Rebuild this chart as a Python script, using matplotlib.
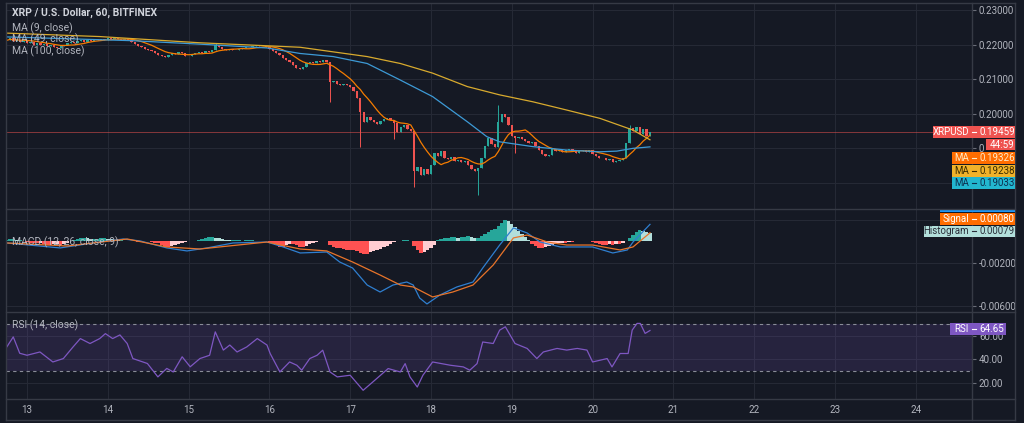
import matplotlib
matplotlib.use("Agg")
import matplotlib.pyplot as plt
from matplotlib.patches import Rectangle
import numpy as np
import pandas as pd

plt.rcParams['font.family'] = ['Roboto', 'DejaVu Sans']

W, H = 1024, 423
BG = "#151924"
GRID = "#252935"
BORDER = "#363a45"
TXT = "#b2b5be"

# ---------------- data (XRP/USD, Bitfinex, 60 min bars) ----------------
first_bar = 12.75          # day 12, 18:00
close = [
    0.2212, 0.2218, 0.2210, 0.2214, 0.2208, 0.2213,
    # 13
    0.2205, 0.2208, 0.2200, 0.2203, 0.2198, 0.2201, 0.2196, 0.2199, 0.2194, 0.2190, 0.2195, 0.2200,
    0.2204, 0.2207, 0.2203, 0.2209, 0.2212, 0.2208, 0.2214, 0.2211, 0.2216, 0.2213, 0.2217, 0.2214,
    # 14
    0.2218, 0.2215, 0.2219, 0.2216, 0.2213, 0.2217, 0.2214, 0.2208, 0.2202, 0.2196, 0.2192, 0.2188,
    0.2184, 0.2180, 0.2176, 0.2170, 0.2166, 0.2163, 0.2170, 0.2176, 0.2172, 0.2178, 0.2174, 0.2168,
    # 15
    0.2166, 0.2172, 0.2175, 0.2178, 0.2176, 0.2181, 0.2179, 0.2183, 0.2200, 0.2192, 0.2186, 0.2184,
    0.2188, 0.2185, 0.2183, 0.2187, 0.2190, 0.2194, 0.2192, 0.2196, 0.2198, 0.2195, 0.2197, 0.2193,
    # 16
    0.2188, 0.2182, 0.2176, 0.2170, 0.2162, 0.2155, 0.2148, 0.2140, 0.2133, 0.2128, 0.2136, 0.2145,
    0.2150, 0.2147, 0.2152, 0.2149, 0.2154, 0.2150, 0.2090, 0.2095, 0.2085, 0.2083, 0.2086, 0.2084,
    # 17
    0.2078, 0.2065, 0.2045, 0.2005, 0.1975, 0.1990, 0.1982, 0.1976, 0.1970, 0.1978, 0.1984, 0.1988,
    0.1980, 0.1972, 0.1945, 0.1960, 0.1968, 0.1955, 0.1948, 0.1832, 0.1845, 0.1822, 0.1838, 0.1826,
    # 18
    0.1850, 0.1885, 0.1878, 0.1890, 0.1872, 0.1868, 0.1874, 0.1862, 0.1865, 0.1858, 0.1862, 0.1850,
    0.1840, 0.1832, 0.1842, 0.1870, 0.1905, 0.1930, 0.1912, 0.1902, 0.1975, 0.1998, 0.1990, 0.1968,
    # 19
    0.1935, 0.1928, 0.1932, 0.1925, 0.1920, 0.1915, 0.1918, 0.1905, 0.1895, 0.1884, 0.1876, 0.1880,
    0.1898, 0.1890, 0.1895, 0.1888, 0.1893, 0.1897, 0.1890, 0.1886, 0.1892, 0.1895, 0.1889, 0.1893,
    # 20
    0.1884, 0.1876, 0.1870, 0.1872, 0.1864, 0.1868, 0.1858, 0.1862, 0.1866, 0.1870, 0.1915, 0.1958,
    0.1950, 0.1962, 0.1940, 0.1955, 0.1935, 0.19459,
]
# long wicks only (bar index -> price)
wick_hi = {62: 0.2205, 146: 0.2025, 185: 0.1966}
wick_lo = {96: 0.2033, 105: 0.1903, 115: 0.1925, 121: 0.1787, 140: 0.1764, 151: 0.1885}

# moving averages (day, price)
ma49_t = [12.75, 14.31, 15.14, 15.97, 16.38, 16.79, 17.21, 17.62, 18.02, 18.45, 18.69, 18.85,
          19.26, 19.68, 20.09, 20.30, 20.50, 20.71]
ma49_v = [0.2222, 0.2211, 0.2201, 0.2190, 0.2174, 0.2165, 0.2145, 0.2097, 0.2049, 0.1976, 0.1933,
          0.1918, 0.1904, 0.1894, 0.1889, 0.1891, 0.1899, 0.19033]
ma100_t = [12.75, 13.90, 15.14, 16.38, 17.21, 17.62, 18.02, 18.45, 18.85, 19.26, 19.68, 20.09,
           20.50, 20.71]
ma100_v = [0.2233, 0.2223, 0.2205, 0.2192, 0.2165, 0.2145, 0.2117, 0.2078, 0.2054, 0.2034, 0.2010,
           0.1986, 0.1952, 0.19238]
ma_last = [0.19326, 0.19238, 0.19033]   # MA 9 / 100 / 49 labels

# MACD histogram per bar (x 1e-4)
hist = [
    1, 2, 2, 1, 1, 0,
    -0.5, -1, -1, -1.5, -1, -2, -3, -3, -2.5, -2, -3, -2, -1, 0, 1, 2, 3, 3.5,
    3, 2, 2, 2.5, 3, 3, 2.5, 2, 1.5, 1, 1, 0.5, 0.5, 0, 0, -0.5, 0, 0.5, 0, -0.5,
    -1, -1.5, -3, -5, -5, -4, -3, -2, -1, -0.5, 0, 0, 0.5, 1, 2, 3, 4, 4, 3.5, 3,
    2, 1.5, 1, 1, 1, 1, 0.5, 1, 1, 1, 0.5, 0.5, 0.5, 0, -1, -1, -3, -5, -5, -3,
    -2, -2, -3, -5, -5, -4, -2, -1, -0.5, 0, 0.5, 0.5, -3, -5, -6, -6, -7, -8, -8, -8,
    -9, -11, -12, -12, -10, -9, -8, -7, -5, -4, -2, -0.5, 0, 0, 1, 1, 0.5, -4, -8, -11,
    -10, -8, -6, -3, 1, 2, 3, 3, 4, 4, 3.5, 4, 4.5, 5, 4, 3, 3, 5, 7, 9,
    11, 12, 14, 17, 20, 19, 16, 13, 10, 7, 4, 1, -2, -4, -6, -6, -5, -4, -3, -2,
    -1.5, -1, -1, -0.5, -0.5, 0, 0, 0.3, 0, 0, -0.5, -1, -2, -3, -3, -2.5, -3, -2,
    -2, -1, 0, 3, 6, 9, 11, 10, 9, 7.9,
]
macd_t = [12.75, 13.41, 13.90, 14.19, 14.40, 14.73, 14.98, 15.23, 15.55, 15.97, 16.17, 16.38,
          16.71, 16.87, 17.03, 17.21, 17.37, 17.53, 17.70, 17.78, 17.86, 17.95, 18.11, 18.32,
          18.52, 18.64, 18.85, 19.02, 19.19, 19.35, 19.60, 20.00, 20.25, 20.43, 20.50, 20.71]
macd_v = [-0.00014, -0.00060, -0.00005, 0.00023, 0.00005, -0.00060, -0.00088, -0.00060, -0.00014,
          -0.00005, -0.00051, -0.00107, -0.00098, -0.00191, -0.00247, -0.00405, -0.00470, -0.00405,
          -0.00377, -0.00405, -0.00526, -0.00581, -0.00498, -0.00423, -0.00377, -0.00247, -0.00033,
          0.00126, 0.00079, -0.00005, -0.00051, -0.00051, -0.00107, -0.00079, -0.00005, 0.00159]
sig_t = [12.75, 13.50, 14.24, 14.73, 15.14, 15.97, 16.38, 16.71, 17.03, 17.37, 17.62, 17.78,
         18.02, 18.27, 18.52, 18.77, 19.02, 19.19, 19.44, 19.68, 20.00, 20.34, 20.50, 20.71]
sig_v = [-0.00014, -0.00042, 0.00023, -0.00051, -0.00070, -0.00005, -0.00070, -0.00088, -0.00191,
         -0.00312, -0.00405, -0.00423, -0.00516, -0.00470, -0.00405, -0.00219, 0.00033, 0.00060,
         -0.00005, -0.00033, -0.00033, -0.00079, -0.00051, 0.00080]

rsi_t = [12.75, 12.83, 12.91, 13.00, 13.16, 13.32, 13.45, 13.57, 13.66, 13.78, 13.90, 13.97,
         14.06, 14.15, 14.24, 14.31, 14.49, 14.62, 14.73, 14.81, 14.92, 15.02, 15.14, 15.26,
         15.33, 15.43, 15.51, 15.60, 15.72, 15.85, 15.97, 16.01, 16.13, 16.25, 16.34, 16.40,
         16.50, 16.59, 16.66, 16.75, 16.84, 17.00, 17.16, 17.28, 17.47, 17.62, 17.68, 17.74,
         17.83, 17.90, 18.02, 18.24, 18.40, 18.48, 18.57, 18.64, 18.77, 18.85, 18.92, 19.04,
         19.19, 19.31, 19.39, 19.56, 19.68, 19.81, 19.93, 20.00, 20.18, 20.24, 20.34, 20.44,
         20.49, 20.55, 20.59, 20.65, 20.71]
rsi_v = [50.7, 59.2, 45.3, 43.6, 46.4, 37.9, 40.8, 50.7, 57.8, 53.6, 57.8, 62.0,
         57.8, 60.9, 53.6, 40.8, 36.6, 25.2, 32.4, 29.4, 42.3, 33.8, 40.8, 43.6,
         63.5, 48.0, 52.3, 46.4, 50.7, 57.8, 52.3, 45.0, 29.4, 37.9, 35.1, 30.9,
         40.8, 43.6, 47.9, 29.4, 25.2, 26.6, 13.8, 20.9, 32.3, 29.4, 36.5, 25.2,
         16.6, 26.6, 37.9, 35.1, 33.7, 30.9, 36.5, 54.9, 53.6, 65.0, 67.8, 53.6,
         49.4, 40.8, 46.4, 49.4, 48.0, 49.4, 48.0, 37.9, 40.8, 33.7, 45.1, 45.1,
         65.0, 70.7, 70.7, 62.2, 64.65]

day_ticks = list(range(13, 25))

# ---------------- figure ----------------
fig = plt.figure(figsize=(W / 100, H / 100), dpi=100, facecolor=BG)
xl = (13 + (6 - 27) / 80.8, 13 + (972 - 27) / 80.8)


def panel(top, bottom, ylim, yticks, labels):
    ax = fig.add_axes([6 / W, 1 - bottom / H, 966 / W, (bottom - top) / H])
    ax.set_facecolor(BG)
    for s in ax.spines.values():
        s.set_visible(False)
    ax.set_xlim(xl)
    ax.set_ylim(ylim)
    ax.set_xticks(day_ticks)
    ax.set_yticks(yticks)
    ax.set_yticklabels(labels)
    ax.yaxis.tick_right()
    ax.tick_params(axis='y', colors=TXT, labelsize=7, length=3, width=0.8, pad=2)
    ax.tick_params(axis='y', color='#6a6d78')
    ax.tick_params(axis='x', length=0, labelbottom=False)
    ax.grid(True, color=GRID, lw=0.8)
    ax.set_axisbelow(True)
    return ax


p_ticks = [0.18, 0.19, 0.20, 0.21, 0.22, 0.23]
# 0.19000 sits behind the countdown label, only its first digit peeks out
p_labels = ["%.5f" % v if v != 0.19 else "0" for v in p_ticks]
ax_p = panel(3, 209, (0.17232, 0.23203), p_ticks, p_labels)
m_ticks = [0.002, -0.002, -0.006]
ax_m = panel(209, 312, (-0.00656, 0.00302), m_ticks, ["%.5f" % v for v in m_ticks])
r_ticks = [20, 40, 60]
ax_r = panel(312, 399, (6.4, 80.4), r_ticks, ["%.2f" % v for v in r_ticks])
ax_r.tick_params(axis='x', labelbottom=True, colors=TXT, labelsize=7, pad=4)
ax_r.set_xticklabels([str(d) for d in day_ticks])

# ---- price panel ----
c = np.array(close)
n = len(c)
t = first_bar + np.arange(n) / 24
o = np.r_[c[0], c[:-1]]
up = c >= o
cols = np.where(up, "#26a69a", "#ef5350")
top_b = np.maximum(o, c)
bot_b = np.minimum(o, c)
hi = np.array([wick_hi.get(i, top_b[i]) for i in range(n)])
lo = np.array([wick_lo.get(i, bot_b[i]) for i in range(n)])
ax_p.vlines(t, lo, hi, colors=cols, lw=0.7, zorder=3)
ax_p.bar(t, np.maximum(top_b - bot_b, 0.0002), bottom=bot_b, width=0.68 / 24,
         color=cols, linewidth=0, zorder=3)

ma9 = pd.Series(c).rolling(9, min_periods=1).mean()
ax_p.plot(t, ma9, color="#f57c00", lw=0.9, zorder=4)
ax_p.plot(ma49_t, ma49_v, color="#3d9ad6", lw=0.9, zorder=4)
ax_p.plot(ma100_t, ma100_v, color="#d8aa2e", lw=0.9, zorder=4)
ax_p.axhline(c[-1], color="#ef5350", lw=0.6, alpha=0.6, zorder=2)

# ---- MACD panel ----
h = np.array(hist) * 1e-4
prev = np.r_[0, h[:-1]]
hcol = np.where(h >= 0, np.where(h >= prev, "#26a69a", "#b2dfdb"),
                np.where(h <= prev, "#ff5252", "#ffcdd2"))
ax_m.bar(t, h, width=1 / 24, color=hcol, linewidth=0, zorder=2)
ax_m.plot(macd_t, macd_v, color="#2f7fd0", lw=0.9, zorder=3)
ax_m.plot(sig_t, sig_v, color="#e8742a", lw=0.9, zorder=3)

# ---- RSI panel ----
ax_r.axhspan(30, 70, color="#7e57c2", alpha=0.17, lw=0, zorder=1)
for lvl in (70, 30):
    ax_r.axhline(lvl, color="#8a8d98", lw=0.8, dashes=(3, 3), zorder=2)
ax_r.plot(rsi_t, rsi_v, color="#7e57c2", lw=0.9, zorder=3)

# ---------------- overlay: frame, legends, value labels ----------------
ov = fig.add_axes([0, 0, 1, 1], zorder=10)
ov.set_xlim(0, W)
ov.set_ylim(H, 0)
ov.axis('off')
ov.patch.set_alpha(0)


def to_px(ax, v):
    return H - ax.transData.transform((xl[0], v))[1]


ov.text(12, 13, "XRP / U.S. Dollar, 60, BITFINEX", fontsize=7.5, fontweight='bold',
        color="#d1d4dc", va='center')
for k, s in enumerate(["MA (9, close)", "MA (49, close)", "MA (100, close)"]):
    ov.text(12, 28 + k * 11.5, s, fontsize=7.5, color=TXT, va='center')
ov.text(12, 242, "MACD (12, 26, close, 9)", fontsize=7.5, color=TXT, va='center')
ov.text(12, 325, "RSI (14, close)", fontsize=7.5, color=TXT, va='center')


def box(x0, x1, yc, hgt, fc, left, right, tc, clip_top=None, rx=979):
    r = Rectangle((x0, yc - hgt / 2), x1 - x0, hgt, fc=fc, ec='none', zorder=5)
    ov.add_patch(r)
    arts = [r]
    if left:
        arts.append(ov.text(969, yc, left, ha='right', va='center', fontsize=7, color=tc,
                            zorder=6))
        arts += ov.plot([972, 976], [yc, yc], color=tc, lw=0.8, zorder=6)
    if right:
        arts.append(ov.text(rx, yc, right, ha='left', va='center', fontsize=7, color=tc,
                            zorder=6))
    if clip_top is not None:
        cp = Rectangle((x0 - 50, clip_top), x1 - x0 + 100, 40, transform=ov.transData)
        for a in arts:
            a.set_clip_on(True)
            a.set_clip_path(cp)


py = to_px(ax_p, c[-1])
box(933, 1015, py, 12, "#ef5350", "XRPUSD", "%.5f" % c[-1], "white")
box(986, 1015, py + 12.5, 11, "#ef5350", None, "44:59", "white", rx=990)
ma_style = [("#ff6d00", "#ffe9c7"), ("#f0b22a", "#3a2c00"), ("#22b6cf", "#0d2f4f")]
for k, (v, (fc, tc)) in enumerate(zip(ma_last, ma_style)):
    box(952, 1015, py + 26 + 12.5 * k, 12, fc, "MA", "%.5f" % v, tc)

hy = to_px(ax_m, hist[-1] * 1e-4) - 1.5
box(940, 1015, hy - 25, 12, "#2196f3", "MACD", "%.5f" % macd_v[-1], "white", clip_top=209.5)
box(940, 1015, hy - 12.5, 12, "#ff6d00", "Signal", "%.5f" % sig_v[-1], "white")
box(924, 1015, hy, 11.5, "#b2dfdb", "Histogram", "%.5f" % (hist[-1] * 1e-4), "#2a2e39")

ry = to_px(ax_r, rsi_v[-1]) - 1.5
box(950, 1006, ry, 12, "#7e57c2", "RSI", "%.2f" % rsi_v[-1], "white")

for y in (3, 209, 312, 399, 420):
    ov.plot([6, 1015], [y, y], color=BORDER, lw=1, zorder=7)
for x in (6, 972, 1015):
    ov.plot([x, x], [3, 420], color=BORDER, lw=1, zorder=4)

fig.savefig("out.png", dpi=100, facecolor=BG)
